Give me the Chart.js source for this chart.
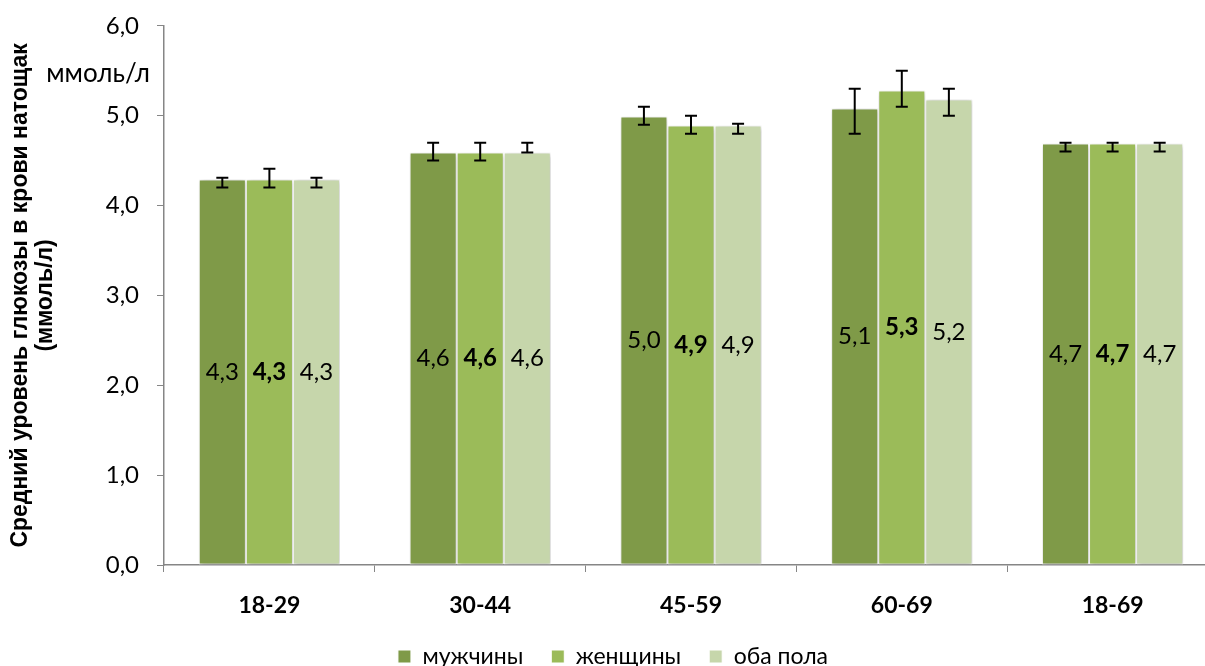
<!DOCTYPE html>
<html lang="ru">
<head>
<meta charset="utf-8">
<script src="https://cdn.jsdelivr.net/npm/chart.js@4.4.1/dist/chart.umd.min.js"></script>
<style>
  html,body{margin:0;padding:0;background:#fff;overflow:hidden;}
  #wrap{width:1222px;height:678px;position:relative;}
</style>
</head>
<body>
<div id="wrap"><canvas id="chart"></canvas></div>
<script>
const ageGroups = ['18-29','30-44','45-59','60-69','18-69'];
const men   = [4.29, 4.59, 4.99, 5.08, 4.69];
const women = [4.29, 4.59, 4.89, 5.28, 4.69];
const both  = [4.29, 4.59, 4.89, 5.18, 4.69];
// error bar ends
const menLow    = [4.20, 4.50, 4.90, 4.80, 4.60];
const menHigh   = [4.31, 4.70, 5.10, 5.30, 4.70];
const womenLow  = [4.20, 4.50, 4.80, 5.10, 4.60];
const womenHigh = [4.41, 4.70, 5.00, 5.50, 4.70];
const bothLow   = [4.20, 4.59, 4.80, 5.00, 4.60];
const bothHigh  = [4.31, 4.70, 4.91, 5.30, 4.70];
const yTicks = [0,1,2,3,4,5,6];

const labelFont = 'Lato, "Open Sans", sans-serif';
const fmt = v => v.toFixed(1).replace('.', ',');

const errs = [[menLow,menHigh],[womenLow,womenHigh],[bothLow,bothHigh]];

const shadowPlugin = {
  id:'shadow',
  beforeDatasetsDraw(chart){
    const c = chart.ctx;
    c.save();
    c.shadowColor = 'rgba(0,0,0,0.28)';
    c.shadowBlur = 5;
    c.shadowOffsetX = 1;
    c.shadowOffsetY = 1;
  },
  afterDatasetsDraw(chart){ chart.ctx.restore(); }
};

const extrasPlugin = {
  id:'extras',
  afterDraw(chart){
    const c = chart.ctx, y = chart.scales.y;
    c.save();
    // value labels
    chart.data.datasets.forEach((ds, i) => {
      const meta = chart.getDatasetMeta(i);
      c.font = (i===1 ? 'bold ' : '') + '24px ' + labelFont;
      c.fillStyle = '#000';
      c.textAlign = 'center';
      c.textBaseline = 'middle';
      meta.data.forEach((bar, j) => {
        c.fillText(fmt(ds.data[j]), bar.x, (bar.y + bar.base)/2);
      });
    });
    // error bars
    c.strokeStyle = '#000';
    c.lineWidth = 2;
    chart.data.datasets.forEach((ds, i) => {
      const meta = chart.getDatasetMeta(i);
      meta.data.forEach((bar, j) => {
        const y1 = y.getPixelForValue(errs[i][0][j]);
        const y2 = y.getPixelForValue(errs[i][1][j]);
        c.beginPath();
        c.moveTo(bar.x, y1); c.lineTo(bar.x, y2);
        c.moveTo(bar.x-6, y1); c.lineTo(bar.x+6, y1);
        c.moveTo(bar.x-6, y2); c.lineTo(bar.x+6, y2);
        c.stroke();
      });
    });
    // unit note
    c.font = '26px ' + labelFont;
    c.textAlign = 'right';
    c.textBaseline = 'middle';
    c.fillText('ммоль/л', 150, y.getPixelForValue(5.47));
    c.restore();
  }
};

const mk = (label, data, color) => ({
  label, data, backgroundColor: color,
  borderColor:'#fff', borderWidth:1, borderSkipped:false
});

new Chart(document.getElementById('chart'), {
  type:'bar',
  data:{
    labels: ageGroups,
    datasets:[
      mk('мужчины', men, '#7f9a48'),
      mk('женщины', women, '#9bbb59'),
      mk('оба пола', both, '#c6d6ab')
    ]
  },
  options:{
    responsive:true,
    maintainAspectRatio:false,
    animation:false,
    categoryPercentage:0.67,
    barPercentage:1.0,
    layout:{padding:{top:16, right:4, left:8, bottom:0}},
    plugins:{
      tooltip:{enabled:false},
      legend:{
        position:'bottom',
        labels:{
          color:'#000', boxWidth:13, boxHeight:13, padding:28,
          font:{family:labelFont, size:23}
        }
      }
    },
    scales:{
      x:{
        grid:{display:true, drawOnChartArea:false, tickLength:7, color:'#868686', offset:true},
        border:{color:'#868686', width:1.5},
        ticks:{color:'#000', padding:20, font:{family:labelFont, size:23, weight:'bold'}},
        afterFit(s){ s.height = 52; }
      },
      y:{
        min:0, max:6,
        afterBuildTicks(s){ s.ticks = yTicks.map(v => ({value:v})); },
        grid:{display:true, drawOnChartArea:false, tickLength:7, color:'#868686'},
        border:{color:'#868686', width:1.5},
        ticks:{color:'#000', padding:18, callback:v => fmt(v), font:{family:labelFont, size:24, lineHeight:0.65}},
        title:{
          display:true,
          text:['Средний уровень глюкозы в крови натощак','(ммоль/л)'],
          color:'#000',
          font:{family:'"Liberation Sans", Arial, sans-serif', size:23, weight:'bold', lineHeight:1.1},
          padding:{top:0, bottom:0}
        },
        afterFit(s){ s.width = 156; }
      }
    }
  },
  plugins:[shadowPlugin, extrasPlugin]
});
</script>
</body>
</html>
